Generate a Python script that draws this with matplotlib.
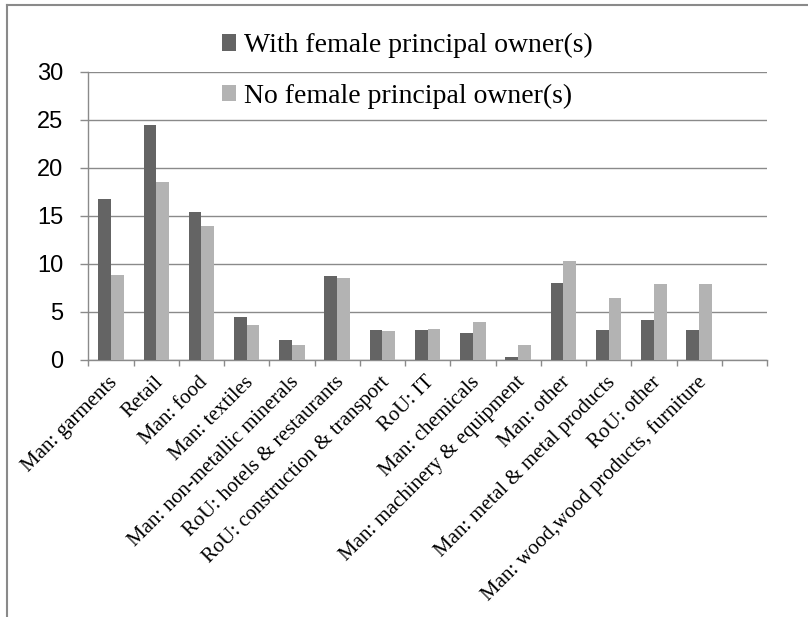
import matplotlib
matplotlib.use("Agg")
import matplotlib.pyplot as plt
from matplotlib.patches import Patch
from matplotlib.lines import Line2D
from matplotlib.transforms import ScaledTranslation
import numpy as np

categories = [
    "Man: garments", "Retail", "Man: food", "Man: textiles",
    "Man: non-metallic minerals", "RoU: hotels & restaurants",
    "RoU: construction & transport", "RoU: IT", "Man: chemicals",
    "Man: machinery & equipment", "Man: other",
    "Man: metal & metal products", "RoU: other",
    "Man: wood,wood products, furniture",
]
with_female = [16.8, 24.5, 15.4, 4.5, 2.1, 8.7, 3.1, 3.1, 2.8, 0.3, 8.0, 3.1, 4.2, 3.1]
no_female = [8.9, 18.5, 14.0, 3.6, 1.6, 8.5, 3.0, 3.2, 4.0, 1.6, 10.3, 6.5, 7.9, 7.9]
series_names = ["With female principal owner(s)", "No female principal owner(s)"]
y_ticks = [0, 5, 10, 15, 20, 25, 30]
n_slots = 15  # one trailing empty category slot

W, H, DPI = 808, 617, 100
fig = plt.figure(figsize=(W / DPI, H / DPI), dpi=DPI)
fig.patch.set_facecolor("white")

def px(x0, y0, x1, y1):
    return [x0 / W, 1 - y1 / H, (x1 - x0) / W, (y1 - y0) / H]

ax = fig.add_axes(px(88.3, 72, 767, 360))

dark = "#646464"
light = "#b3b3b3"
grid = "#8a8a8a"

x = np.arange(len(categories))
bw = 0.28
ax.bar(x - bw / 2, with_female, width=bw, color=dark, linewidth=0, zorder=3)
ax.bar(x + bw / 2, no_female, width=bw, color=light, linewidth=0, zorder=3)

ax.set_xlim(-0.5, n_slots - 0.5)
ax.set_ylim(0, 30)

ax.set_yticks(y_ticks)
ax.set_yticklabels([str(v) for v in y_ticks], fontfamily="Liberation Sans", fontsize=17)
ax.yaxis.grid(True, color=grid, linewidth=1.0, zorder=0)
ax.tick_params(axis="y", length=6, width=1.0, color=grid, pad=12)

ax.set_xticks(np.arange(n_slots + 1) - 0.5)
ax.set_xticklabels([])
ax.tick_params(axis="x", which="major", length=4.5, width=1.0, color=grid)
ax.set_xticks(x, minor=True)
ax.set_xticklabels(categories, minor=True, rotation=45, ha="right", va="center",
                   rotation_mode="anchor", fontfamily="Liberation Serif", fontsize=15)
ax.tick_params(axis="x", which="minor", length=0, pad=14)
shift = ScaledTranslation(4 / DPI, 0, fig.dpi_scale_trans)
for lbl in ax.get_xticklabels(minor=True):
    lbl.set_transform(lbl.get_transform() + shift)

for side in ["top", "right"]:
    ax.spines[side].set_visible(False)
for side in ["left", "bottom"]:
    ax.spines[side].set_color(grid)
    ax.spines[side].set_linewidth(1.0)
ax.set_axisbelow(True)

handles = [Patch(facecolor=dark, edgecolor="none"), Patch(facecolor=light, edgecolor="none")]
fig.legend(handles, series_names, loc="upper left",
           bbox_to_anchor=(222 / W, 1 - 33 / H), frameon=False,
           prop={"family": "Liberation Serif", "size": 20},
           handlelength=0.5, handleheight=0.55, handletextpad=0.3,
           labelspacing=0.92, borderpad=0, borderaxespad=0)

# outer chart frame
fig.add_artist(Line2D([6.5 / W, 1.0], [1 - 5 / H, 1 - 5 / H], color=grid, linewidth=1.5,
                      transform=fig.transFigure))
fig.add_artist(Line2D([6.5 / W, 6.5 / W], [1 - 5 / H, 0.0], color=grid, linewidth=1.5,
                      transform=fig.transFigure))

fig.savefig("out.png", dpi=DPI)
